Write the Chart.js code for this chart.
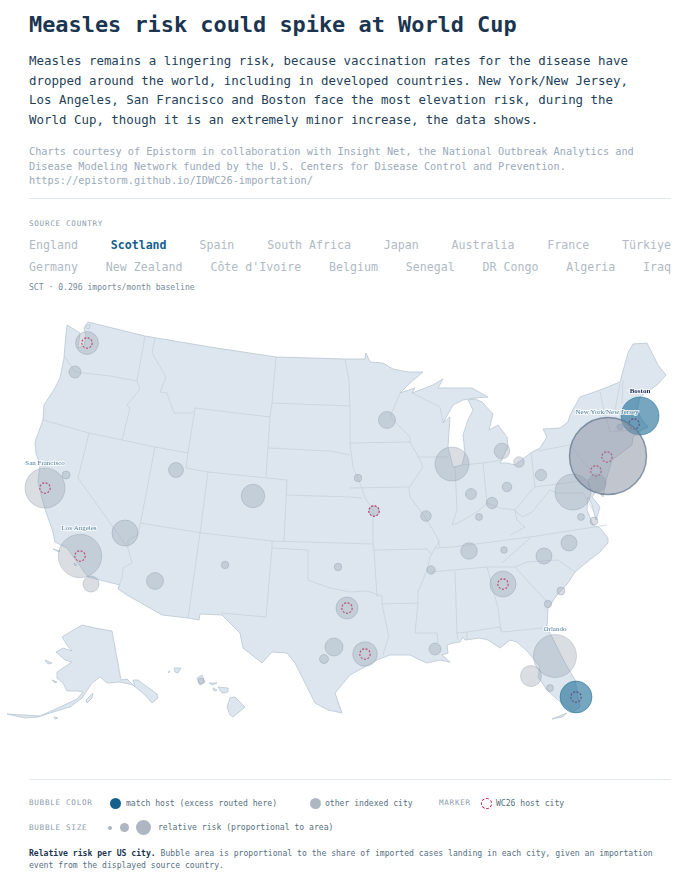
<!DOCTYPE html>
<html lang="en">
<head>
<meta charset="utf-8">
<title>Measles risk could spike at World Cup</title>
<script src="https://cdn.jsdelivr.net/npm/chart.js@4"></script>
<style>
  * { box-sizing: border-box; }
  html, body { margin: 0; background: #fff; }
  body { width: 700px; height: 877px; overflow: hidden; position: relative; font-family: "DejaVu Sans Mono", monospace; color: #1b3550; }
  .abs { position: absolute; left: 29px; white-space: nowrap; }
  h1 { margin: 0; top: 10px; font-size: 21.9px; line-height: 30px; font-weight: 700; }
  .lede { top: 51px; font-size: 12.45px; line-height: 19.6px; color: #243f58; }
  .credit { top: 144px; font-size: 10.25px; line-height: 14.5px; color: #9aaab9; }
  hr { position: absolute; left: 29px; width: 642px; margin: 0; border: 0; border-top: 1px solid #e4e9ee; }
  .tag { font-size: 7.6px; letter-spacing: .72px; color: #8a9aa9; }
  .row { position: absolute; left: 29px; width: 642px; display: flex; justify-content: space-between; font-size: 11.6px; line-height: 16px; color: #b0bac4; }
  .row b { color: #14608c; font-weight: 700; }
  .base { top: 282px; font-size: 8.1px; color: #76899a; }
  #map { position: absolute; left: 0; top: 300px; width: 700px; height: 430px; }
  .leg { font-size: 8.1px; color: #55707f; line-height: 12px; }
  .dot { position: absolute; border-radius: 50%; background: #aeb6c1; }
  .note { top: 847px; font-size: 8.1px; line-height: 12.4px; color: #56707f; }
  .note strong { color: #1b3550; }
</style>
</head>
<body>
<h1 class="abs">Measles risk could spike at World Cup</h1>
<div class="abs lede">Measles remains a lingering risk, because vaccination rates for the disease have<br>dropped around the world, including in developed countries. New York/New Jersey,<br>Los Angeles, San Francisco and Boston face the most elevation risk, during the<br>World Cup, though it is an extremely minor increase, the data shows.</div>
<div class="abs credit">Charts courtesy of Epistorm in collaboration with Insight Net, the National Outbreak Analytics and<br>Disease Modeling Network funded by the U.S. Centers for Disease Control and Prevention.<br>https://epistorm.github.io/IDWC26-importation/</div>
<hr style="top:198px">
<div class="abs tag" style="top:219px">SOURCE COUNTRY</div>
<div class="row" id="rowA" style="top:237px"></div>
<div class="row" id="rowB" style="top:259px"></div>
<div class="abs base">SCT · 0.296 imports/month baseline</div>
<div id="map"><canvas id="chartMapa"></canvas></div>
<hr style="top:779px">
<div class="abs tag" style="top:798px">BUBBLE COLOR</div>
<div class="dot" style="left:110px;top:798px;width:11px;height:11px;background:#14608c"></div>
<div class="abs leg" style="left:126px;top:797px">match host (excess routed here)</div>
<div class="dot" style="left:310px;top:798px;width:11px;height:11px"></div>
<div class="abs leg" style="left:325px;top:797px">other indexed city</div>
<div class="abs tag" style="left:439px;top:798px">MARKER</div>
<div class="dot" style="left:481px;top:798px;width:11px;height:11px;background:none;border:1px dashed #c8204f"></div>
<div class="abs leg" style="left:496px;top:797px">WC26 host city</div>
<div class="abs tag" style="top:823px">BUBBLE SIZE</div>
<div class="dot" style="left:108px;top:826px;width:4px;height:4px"></div>
<div class="dot" style="left:120px;top:823px;width:9px;height:9px"></div>
<div class="dot" style="left:136px;top:820px;width:15px;height:15px"></div>
<div class="abs leg" style="left:158px;top:821px">relative risk (proportional to area)</div>
<div class="abs note"><strong>Relative risk per US city.</strong> Bubble area is proportional to the share of imported cases landing in each city, given an importation<br>event from the displayed source country.</div>

<script>
"use strict";

const sourceRowA = ["England", "Scotland", "Spain", "South Africa", "Japan", "Australia", "France", "Türkiye"];
const sourceRowB = ["Germany", "New Zealand", "Côte d'Ivoire", "Belgium", "Senegal", "DR Congo", "Algeria", "Iraq"];
const selectedSource = "Scotland";

// cities (map units), share = % of imported cases
const cityNames = ["Seattle", "Portland", "San Francisco", "Sacramento", "Salt Lake City", "Denver", "Minneapolis", "Chicago", "Detroit", "Cleveland", "Pittsburgh", "Columbus", "Indianapolis", "Cincinnati", "Louisville", "St. Louis", "Kansas City", "Omaha", "Washington", "Philadelphia", "Hartford", "Richmond", "Norfolk", "Charlotte", "Raleigh", "Nashville", "Knoxville", "Memphis", "Atlanta", "Charleston", "Savannah", "Orlando", "Tampa", "Fort Myers", "New Orleans", "Houston", "Dallas", "Austin", "San Antonio", "Oklahoma City", "Albuquerque", "Phoenix", "Las Vegas", "Los Angeles", "San Diego", "Honolulu", "Miami", "Boston", "New York/New Jersey"];
const cityX = [87, 75, 45, 66, 176, 253, 387, 452, 502, 519, 541, 507, 471, 492, 479, 426, 374, 358, 573, 597, 620, 581, 594, 544, 569, 469, 504, 431, 503, 561, 548, 555, 531, 550, 435, 365, 347, 334, 324, 338, 225, 155, 125, 80, 91, 201, 576, 640, 608];
const cityY = [343, 372, 488, 475, 470, 496, 420, 464, 451, 462, 475, 487, 494, 503, 517, 516, 511, 478, 492, 483, 427, 517, 521, 556, 543, 551, 550, 570, 584, 591, 604, 656, 676, 688, 649, 654, 608, 647, 659, 567, 565, 581, 533, 556, 584, 681, 697, 416, 456];
const cityShare = [1.32, 0.36, 4.0, 0.16, 0.56, 1.37, 0.72, 2.89, 0.61, 0.28, 0.32, 0.23, 0.30, 0.32, 0.12, 0.28, 0.25, 0.14, 3.24, 0.81, 0.09, 0.12, 0.16, 0.64, 0.64, 0.69, 0.11, 0.18, 1.69, 0.16, 0.14, 4.62, 1.10, 0.12, 0.36, 1.51, 1.21, 0.81, 0.20, 0.14, 0.14, 0.72, 1.69, 4.71, 0.64, 0.09, 2.56, 3.61, 14.82];
const matchHosts = ["Miami", "Boston"];
const activeCity = "New York/New Jersey";

// WC26 host city markers
const hostX = [87, 45, 80, 374, 347, 365, 503, 576, 634, 607, 596];
const hostY = [343, 488, 556, 511, 608, 654, 584, 697, 424, 457, 471];

const labelNames = ["San Francisco", "Los Angeles", "Orlando", "New York/New Jersey", "Boston"];
const labelX = [45, 79, 555, 607, 640];
const labelY = [463, 528, 629, 412, 391];

// contiguous US outline
const mainland = [[88,322],[145,336],[210,347],[276,357],[345,359],[365,359],[366,353],[370,362],[383,363],[393,369],[408,372],[423,372],[410,383],[400,393],[415,388],[412,393],[433,385],[443,379],[438,388],[460,388],[472,388],[488,397],[475,398],[463,400],[453,405],[443,423],[450,417],[448,447],[453,467],[462,465],[465,453],[463,435],[468,420],[473,410],[468,400],[475,399],[482,402],[493,414],[489,430],[498,425],[507,437],[508,447],[500,463],[507,463],[515,465],[532,452],[540,448],[547,437],[543,429],[560,428],[568,422],[570,415],[580,397],[600,390],[620,382],[628,353],[633,344],[647,343],[658,365],[666,375],[657,385],[640,397],[637,410],[642,420],[648,427],[638,432],[633,437],[632,445],[612,460],[606,480],[603,497],[597,490],[592,497],[600,507],[596,520],[592,505],[588,497],[587,510],[593,525],[600,528],[608,538],[608,543],[600,552],[587,562],[575,572],[568,583],[557,595],[548,608],[547,627],[552,637],[565,663],[575,680],[580,707],[573,712],[558,700],[547,690],[538,677],[540,667],[528,652],[517,642],[510,640],[500,648],[488,640],[480,638],[465,640],[463,637],[460,642],[453,643],[447,645],[448,653],[442,655],[450,662],[440,660],[427,663],[420,660],[410,655],[390,655],[377,660],[350,675],[335,693],[342,713],[328,710],[315,703],[295,663],[287,653],[272,652],[262,663],[243,648],[240,633],[222,615],[200,614],[199,620],[188,618],[162,615],[127,595],[118,589],[120,585],[88,577],[67,548],[55,542],[53,532],[46,512],[43,502],[38,482],[40,465],[36,453],[35,442],[43,420],[44,405],[55,388],[60,378],[64,358],[65,345],[67,325],[80,333],[78,348],[84,346],[86,335],[84,328]];
const alaska = [[62,637],[70,632],[82,625],[95,628],[112,631],[121,680],[127,679],[135,687],[133,680],[138,680],[157,694],[158,698],[152,703],[145,695],[133,685],[120,682],[107,683],[100,677],[92,683],[82,698],[70,707],[53,712],[38,717],[25,718],[7,714],[40,716],[58,708],[77,699],[83,692],[78,691],[67,691],[63,683],[57,678],[57,672],[72,662],[65,660],[56,652],[63,648],[72,651],[67,645]];
const hawaii = [
  [[230,698],[235,697],[245,707],[233,717],[230,715],[227,707]],
  [[218,687],[228,688],[228,692],[222,693]],
  [[209,683],[217,683],[212,685]],
  [[213,688],[217,690],[214,691]],
  [[197,678],[202,675],[205,682],[200,685]],
  [[174,668],[181,668],[178,673],[175,672]],
  [[168,672],[170,671],[169,673]]
];
// St. Lawrence, Nunivak, Kodiak, Channel Islands, Keys, San Juans
const islands = [
  [[45,660],[52,663],[48,664]],
  [[52,680],[57,682],[55,683]],
  [[86,700],[93,693],[92,698],[87,703]],
  [[53,549],[60,551],[59,552]],
  [[74,563],[77,565],[75,566]],
  [[54,717],[58,718],[55,719]],
  [[552,719],[567,713],[562,717]],
  [[86,325],[90,325],[89,329],[86,328]]
];

// state borders
const stateLines = [
  [[65,357],[75,372],[83,373],[110,376],[137,381]],
  [[145,336],[137,381],[140,389],[127,405],[130,408],[122,440]],
  [[43,420],[89,433],[122,440],[155,447],[188,453]],
  [[155,338],[152,353],[166,377],[160,392],[167,393],[174,413],[190,413],[193,412]],
  [[195,408],[188,453],[186,468]],
  [[195,408],[270,417],[266,477]],
  [[186,468],[208,472],[287,480],[284,542]],
  [[208,472],[200,533]],
  [[155,447],[141,520],[138,535],[128,540],[128,548]],
  [[89,433],[78,478],[128,548],[132,563],[123,568],[122,578],[118,588]],
  [[140,523],[202,533],[272,541],[373,544]],
  [[200,533],[188,618]],
  [[272,541],[272,548],[266,617],[221,613]],
  [[272,548],[308,550],[308,580],[330,588],[350,592],[367,591],[382,596],[382,604],[388,633],[389,635],[383,655]],
  [[373,510],[373,544],[374,550],[377,597]],
  [[382,604],[418,603],[415,633],[437,633],[438,643]],
  [[374,550],[427,549],[432,555]],
  [[440,540],[430,557],[427,570],[418,592],[418,603]],
  [[430,572],[487,567],[515,567]],
  [[435,548],[453,547],[530,537],[607,525]],
  [[455,571],[457,635],[458,640]],
  [[487,567],[498,608],[501,631]],
  [[457,633],[467,632],[467,639]],
  [[467,632],[500,627],[502,632],[543,628]],
  [[515,567],[548,603]],
  [[515,567],[527,562],[558,560],[575,572]],
  [[502,563],[530,538]],
  [[350,443],[410,442]],
  [[400,393],[390,417],[410,437],[410,442],[418,456],[423,467],[409,488]],
  [[417,457],[448,457]],
  [[350,488],[409,487]],
  [[345,360],[349,380],[350,410],[350,443],[353,467],[362,488],[365,498],[373,510]],
  [[409,488],[410,497],[425,517],[437,537],[440,547]],
  [[455,467],[457,510],[452,525]],
  [[462,465],[483,463],[503,460]],
  [[483,463],[487,503]],
  [[452,525],[458,523],[477,512],[487,503],[500,508],[515,510],[532,490],[535,487]],
  [[531,452],[535,487],[573,482],[600,478]],
  [[538,451],[570,445],[590,470]],
  [[600,392],[605,415],[610,432],[632,430]],
  [[605,415],[640,410]],
  [[615,410],[620,384]],
  [[623,380],[622,403]],
  [[515,510],[517,520],[525,527],[510,535]],
  [[515,511],[523,517],[532,512],[550,490],[557,493],[583,493],[593,510]],
  [[276,357],[272,403],[270,417]],
  [[272,403],[350,406]],
  [[268,448],[330,451],[350,455]],
  [[287,495],[350,497],[362,498]],
  [[412,393],[440,407],[443,423]]
];

const Mapa = {
  grafico: null,

  init() {
    document.getElementById("rowA").innerHTML = this._row(sourceRowA);
    document.getElementById("rowB").innerHTML = this._row(sourceRowB);
    this._initChart();
  },

  _row(names) {
    return names
      .map((n) => (n === selectedSource ? `<b>${n}</b>` : `<span>${n}</span>`))
      .join("");
  },

  _initChart() {
    const ctx = document.getElementById("chartMapa");

    // US shapes go under the bubbles
    const mapShapes = {
      id: "mapShapes",
      beforeDatasetsDraw(chart) {
        const { ctx: c, scales } = chart;
        const trace = (pts, close) => {
          c.beginPath();
          pts.forEach(([x, y], i) => {
            const px = scales.x.getPixelForValue(x);
            const py = scales.y.getPixelForValue(y);
            if (i === 0) c.moveTo(px, py);
            else c.lineTo(px, py);
          });
          if (close) c.closePath();
        };
        c.save();
        c.lineJoin = "round";
        c.fillStyle = "#dde6ee";
        c.strokeStyle = "#b7c6d3";
        c.lineWidth = 0.8;
        [mainland, alaska, ...hawaii, ...islands].forEach((shape) => {
          trace(shape, true);
          c.fill();
          c.stroke();
        });
        c.strokeStyle = "#c3cfda";
        c.lineWidth = 0.7;
        stateLines.forEach((line) => {
          trace(line, false);
          c.stroke();
        });
        c.restore();
      },
    };

    // dashed ring for the host dataset only
    const dashedHosts = {
      id: "dashedHosts",
      beforeDatasetDraw(chart, args) {
        if (args.index === 1) {
          chart.ctx.save();
          chart.ctx.setLineDash([2, 1.5]);
        }
      },
      afterDatasetDraw(chart, args) {
        if (args.index === 1) chart.ctx.restore();
      },
    };

    const cityLabels = {
      id: "cityLabels",
      afterDatasetsDraw(chart) {
        const { ctx: c, scales } = chart;
        c.save();
        c.textAlign = "center";
        c.textBaseline = "middle";
        labelNames.forEach((name, i) => {
          const boston = name === "Boston";
          const px = scales.x.getPixelForValue(labelX[i]);
          const py = scales.y.getPixelForValue(labelY[i]);
          c.font = `${boston ? "bold " : ""}7px "Liberation Serif", serif`;
          c.strokeStyle = "rgba(255,255,255,0.75)";
          c.lineWidth = 2;
          c.strokeText(name, px, py);
          c.fillStyle = boston ? "#1c2b52" : "#4f7d9c";
          c.fillText(name, px, py);
        });
        c.restore();
      },
    };

    const fillFor = (name) => {
      if (matchHosts.includes(name)) return "rgba(26,107,150,0.6)";
      if (name === activeCity) return "rgba(140,150,165,0.55)";
      return "rgba(150,160,175,0.35)";
    };
    const edgeFor = (name) => {
      if (matchHosts.includes(name)) return "rgba(26,107,150,0.65)";
      if (name === activeCity) return "rgba(95,118,140,0.75)";
      return "rgba(130,142,158,0.4)";
    };

    this.grafico = new Chart(ctx, {
      type: "bubble",
      data: {
        datasets: [
          {
            label: "Relative risk",
            data: cityNames.map((n, i) => ({
              x: cityX[i],
              y: cityY[i],
              // area proportional to share
              r: 10 * Math.sqrt(cityShare[i]),
            })),
            backgroundColor: cityNames.map(fillFor),
            borderColor: cityNames.map(edgeFor),
            borderWidth: cityNames.map((n) => (n === activeCity ? 1.4 : 0.8)),
            clip: false,
          },
          {
            label: "WC26 host city",
            data: hostX.map((x, i) => ({ x, y: hostY[i], r: 5.2 })),
            backgroundColor: "rgba(0,0,0,0)",
            borderColor: "rgba(210,25,75,1)",
            borderWidth: 1.1,
            clip: false,
          },
        ],
      },
      options: {
        responsive: true,
        maintainAspectRatio: false,
        animation: false,
        layout: { padding: 0, autoPadding: false },
        plugins: { legend: { display: false }, tooltip: { enabled: false } },
        scales: {
          x: { type: "linear", min: 0, max: 700, display: false },
          y: { type: "linear", min: 300, max: 730, reverse: true, display: false },
        },
      },
      plugins: [mapShapes, dashedHosts, cityLabels],
    });
  },
};

Mapa.init();
</script>
</body>
</html>
